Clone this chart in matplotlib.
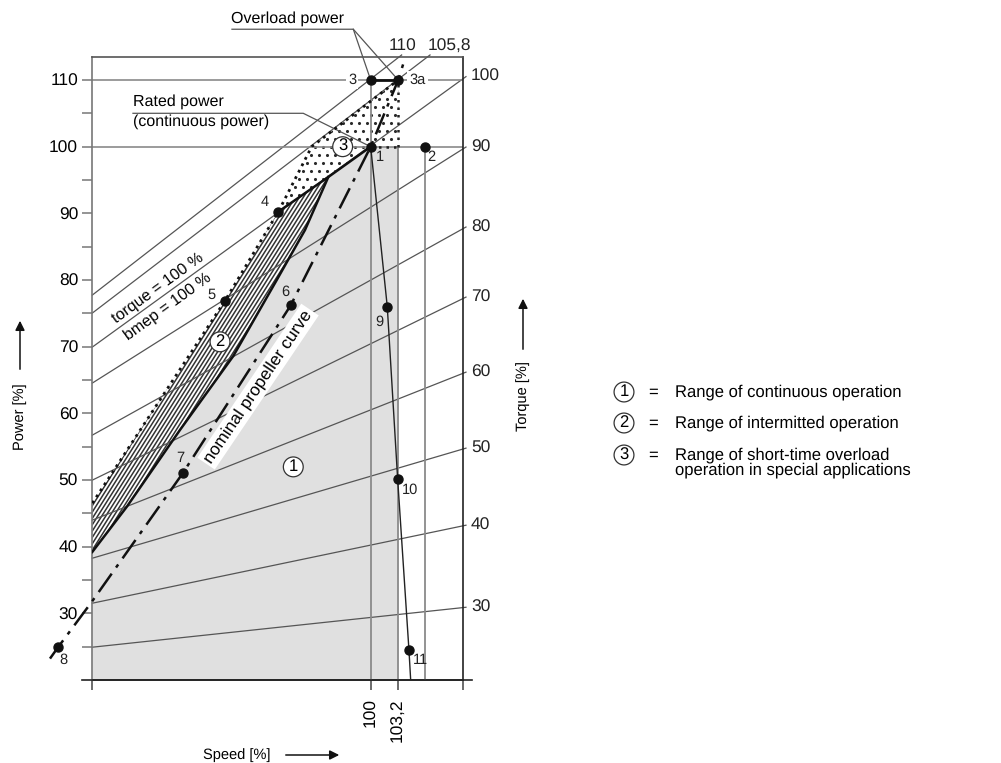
import matplotlib
matplotlib.use("Agg")
import matplotlib.pyplot as plt
from matplotlib.patches import Polygon, FancyArrowPatch
import numpy as np

plt.rcParams['font.family'] = ['Liberation Sans', 'DejaVu Sans']
plt.rcParams['text.hinting'] = 'no_hinting'

# ---- data (speed %, power %) ----
# nominal propeller curve
prop_speed = [62.71, 63.67, 67.56, 78.14, 90.70, 100.0, 103.2, 103.87]
prop_power = [23.21, 24.95, 31.71, 51.00, 76.20, 100.0, 110.0, 112.76]

# limit curve between range 1 and range 2
limit_speed = [67.63, 71.63, 77.83, 84.02, 89.07, 92.36, 95.07]
limit_power = [39.21, 45.97, 57.52, 68.59, 79.99, 87.50, 95.45]

# straight limit 4 -> junction -> 1
upper_speed = [89.26, 95.07, 100.0]
upper_power = [90.24, 95.45, 100.0]

# dotted outer limit (left edge -> 5 -> 4 -> 100 % line -> 3a)
outer_speed = [67.63, 83.06, 89.26, 93.14, 103.2]
outer_power = [46.52, 76.89, 90.24, 100.0, 110.0]

# governor line 1 - 9 - 10 - 11
gov_speed = [100.0, 101.93, 103.14, 104.45, 104.65]
gov_power = [100.0, 76.00, 50.08, 24.50, 20.0]

# torque lines
torque_labels = ['110', '105,8', '100', '90', '80', '70', '60', '50', '40', '30']
torque_left_power = [77.74, 75.04, 69.94, 64.54, 56.73, 49.98, 43.98, 38.27, 31.52, 24.92]
torque_end_speed = [103.60, 106.90, 111.08, 111.08, 111.08, 111.08, 111.08, 111.08, 111.08, 111.08]
torque_end_power = [113.76, 113.76, 110.51, 99.95, 87.95, 77.44, 66.18, 54.78, 43.22, 30.91]

# operating points
pt_names = ['1', '2', '3', '3a', '4', '5', '6', '7', '8', '9', '10', '11']
pt_speed = [100.0, 106.31, 100.0, 103.2, 89.26, 83.06, 90.70, 78.14, 63.67, 101.93, 103.14, 104.45]
pt_power = [100.0, 100.0, 110.0, 110.0, 90.24, 76.89, 76.20, 51.00, 24.95, 76.00, 50.08, 24.50]

speed_min, speed_max = 67.63, 110.70
power_min, power_max = 20.0, 113.5
rated_speed, overload_speed, speed_2 = 100.0, 103.2, 106.31

legend_items = ['Range of continuous operation',
                'Range of intermitted operation',
                'Range of short-time overload\noperation in special applications']

# ---- figure ----
W, H = 1001, 763
fig = plt.figure(figsize=(W / 100, H / 100), dpi=100)
ax = fig.add_axes([92.3 / W, 1 - 680 / H, 370.4 / W, 623.3 / H])
ax.set_xlim(speed_min, speed_max)
ax.set_ylim(power_min, power_max)

thin = '#555555'
ref = '#8a8a8a'

# region 1 (continuous operation)
jx, jy = limit_speed[-1], limit_power[-1]
reg1 = list(zip([speed_min] + limit_speed, [power_min] + limit_power))
reg1 += [(100.0, 100.0), (overload_speed, 100.0), (overload_speed, power_min)]
ax.add_patch(Polygon(reg1, closed=True, facecolor='#e0e0e0', edgecolor='none', zorder=1))

# region 2 (intermitted operation) - hatched
reg2 = list(zip(outer_speed[:3], outer_power[:3])) + [(jx, jy)]
reg2 += list(zip(limit_speed[::-1], limit_power[::-1]))
p2 = Polygon(reg2, closed=True, facecolor='white', edgecolor='none', zorder=1.2)
ax.add_patch(p2)
xs = np.array([60.0, 100.0])
for c in np.arange(30, 55, 0.95):
    ln, = ax.plot(xs, c + 2.04 * (xs - speed_min), color='#333333', lw=1.1, zorder=1.3)
    ln.set_clip_path(p2)

# region 3 (short-time overload) - sparse dot texture
reg3 = list(zip(outer_speed[2:], outer_power[2:]))
reg3 += [(overload_speed, 100.0), (100.0, 100.0), (jx, jy)]
p3 = Polygon(reg3, closed=True, facecolor='white', edgecolor='none', zorder=1.2)
ax.add_patch(p3)
gx, gy = np.meshgrid(np.arange(88.0, 104.5, 0.93), np.arange(88.0, 111.0, 1.2))
gx = gx + 0.465 * (np.arange(gx.shape[0])[:, None] % 2)
dots = ax.scatter(gx.ravel(), gy.ravel(), s=5, color='#2a2a2a', lw=0, zorder=1.3)
dots.set_clip_path(p3)

# torque lines
for lab, pl, xe, pe in zip(torque_labels, torque_left_power, torque_end_speed, torque_end_power):
    ax.plot([speed_min, xe], [pl, pe], color=thin, lw=0.9, zorder=2, clip_on=False)
    if xe > speed_max:
        ax.text(111.66, pe, lab, fontsize=12.5, ha='left', va='center', color='#222222')
ax.text(103.76, 115.0, '110', fontsize=12.5, ha='center', va='center', color='#222222', clip_on=False)
ax.text(109.10, 115.0, '105,8', fontsize=12.5, ha='center', va='center', color='#222222', clip_on=False)

# reference lines
ax.plot([speed_min, speed_max], [110, 110], color=ref, lw=1.2, zorder=2.5)
ax.plot([speed_min, speed_max], [100, 100], color=ref, lw=1.2, zorder=2.5)
ax.plot([rated_speed, rated_speed], [power_min, 110], color=ref, lw=1.3, zorder=2.5)
ax.plot([overload_speed, overload_speed], [power_min, 100], color=ref, lw=1.3, zorder=2.5)
ax.plot([overload_speed, overload_speed], [100, 110], color='#222222', lw=1.8,
        ls=(0, (1, 2)), zorder=3)
ax.plot([rated_speed, overload_speed], [100, 100], color='#222222', lw=1.8,
        ls=(0, (1, 2)), zorder=3)
ax.plot([speed_2, speed_2], [power_min, 100], color=ref, lw=1.3, zorder=2.5)

# limit lines
ax.plot(limit_speed, limit_power, color='#111111', lw=1.8, zorder=4)
ax.plot(upper_speed, upper_power, color='#111111', lw=1.8, zorder=4)
ax.plot(outer_speed, outer_power, color='#111111', lw=2.0, ls=(0, (1, 1.6)), zorder=4)
ax.plot([100.0, 103.2], [110, 110], color='#111111', lw=2.0, zorder=4)
ax.plot(gov_speed, gov_power, color='#222222', lw=1.0, zorder=4)
ax.plot(prop_speed, prop_power, color='#111111', lw=1.8, ls=(0, (9, 3, 1.5, 3)),
        zorder=4, clip_on=False)

ax.plot(pt_speed, pt_power, 'o', color='#111111', ms=6.5, zorder=6, clip_on=False)

# point labels
fs_pt = 10.5
lab_pos = {'1': (101.08, 98.5), '2': (107.09, 98.5), '4': (87.71, 91.74),
           '5': (81.51, 77.74), '6': (90.03, 78.24), '7': (77.83, 53.28),
           '8': (64.26, 22.96), '9': (101.0, 73.73), '10': (104.57, 48.47),
           '11': (105.81, 22.96)}
for k, (x, y) in lab_pos.items():
    ax.text(x, y, k, fontsize=fs_pt, ha='center', va='center', color='#222222',
            zorder=7, clip_on=False)
for k, x in (('3', 97.83), ('3a', 105.42)):
    ax.text(x, 110, k, fontsize=fs_pt, ha='center', va='center', color='#222222', zorder=7,
            bbox=dict(boxstyle='square,pad=0.15', fc='white', ec='none'))

# circled region numbers
circ = dict(boxstyle='circle,pad=0.12', fc='white', ec='#333333', lw=0.9)
ax.text(91.0, 51.97, '1', fontsize=12, ha='center', va='center', bbox=circ, zorder=7)
ax.text(82.48, 70.73, '2', fontsize=12, ha='center', va='center', bbox=circ, zorder=7)
ax.text(96.74, 100.0, '3', fontsize=12, ha='center', va='center', bbox=circ, zorder=7)

ax.text(75.21, 78.79, 'torque = 100 %', fontsize=11.5, rotation=36, ha='center',
        va='center', rotation_mode='anchor', zorder=7)
ax.text(76.37, 76.09, 'bmep = 100 %', fontsize=11.5, rotation=36, ha='center',
        va='center', rotation_mode='anchor', zorder=7)
ax.text(86.90, 64.01, 'nominal propeller curve', fontsize=12.5, rotation=56,
        ha='center', va='center', rotation_mode='anchor', zorder=7,
        bbox=dict(boxstyle='square,pad=0.15', fc='white', ec='none'))

# annotations
ax.text(90.33, 119.17, 'Overload power', fontsize=11.5, ha='center', va='center', clip_on=False)
ax.plot([83.87, 97.98, 100.0], [117.62, 117.62, 110.0], color=thin, lw=0.9, clip_on=False)
ax.plot([97.98, 103.2], [117.62, 110.0], color=thin, lw=0.9, clip_on=False)
ax.text(72.36, 106.75, 'Rated power', fontsize=11.5, ha='left', va='center')
ax.text(72.36, 103.71, '(continuous power)', fontsize=11.5, ha='left', va='center')
ax.plot([72.36, 92.16, 100.0], [105.01, 105.01, 100.0], color=thin, lw=0.9, zorder=3)

# axes styling
for s in ax.spines.values():
    s.set_linewidth(1.2)
ax.spines['left'].set_color('#777777')
ax.spines['top'].set_color('#555555')
ax.spines['right'].set_color('#222222')
ax.spines['bottom'].set_color('#222222')
ax.plot([66.43, 111.78], [power_min, power_min], color='#222222', lw=1.2, clip_on=False)

yt = list(range(25, 111, 5))
ax.set_yticks(yt)
ax.set_yticklabels([str(v) if v % 10 == 0 else '' for v in yt], fontsize=12.5)
ax.tick_params(axis='y', direction='out', length=7.2, width=1.1, color='#777777', pad=3)
ax.set_xticks([speed_min, rated_speed, overload_speed, speed_max])
ax.set_xticklabels(['', '100', '103,2', ''], rotation=90, fontsize=12.5)
ax.tick_params(axis='x', direction='out', length=7.2, width=1.1, color='#444444', pad=6)

# axis titles with arrows
fig.text(20 / W, 1 - 416.7 / H, 'Power [%]', rotation=90, fontsize=10.5, ha='center', va='center')
fig.text(236.5 / W, 1 - 755 / H, 'Speed [%]', fontsize=10.5, ha='center', va='center')
fig.text(523 / W, 1 - 396 / H, 'Torque [%]', rotation=90, fontsize=10.5, ha='center', va='center')
arr = dict(arrowstyle='-|>', color='#111111', lw=1.1, mutation_scale=14)
fig.add_artist(FancyArrowPatch((20 / W, 1 - 372 / H), (20 / W, 1 - 318 / H),
               transform=fig.transFigure, **arr))
fig.add_artist(FancyArrowPatch((283 / W, 1 - 755 / H), (342 / W, 1 - 755 / H),
               transform=fig.transFigure, **arr))
fig.add_artist(FancyArrowPatch((523 / W, 1 - 352 / H), (523 / W, 1 - 296 / H),
               transform=fig.transFigure, **arr))

# legend
ly = [392, 423, 455]
for i, (txt, y) in enumerate(zip(legend_items, ly)):
    fig.text(624 / W, 1 - y / H, str(i + 1), fontsize=12, ha='center', va='center',
             bbox=dict(boxstyle='circle,pad=0.12', fc='white', ec='#333333', lw=0.9))
    fig.text(653 / W, 1 - y / H, '=', fontsize=12, ha='center', va='center')
    fig.text(675 / W, 1 - (y - 8) / H, txt, fontsize=12, ha='left', va='top', linespacing=0.95)

fig.savefig('out.png', dpi=100)
